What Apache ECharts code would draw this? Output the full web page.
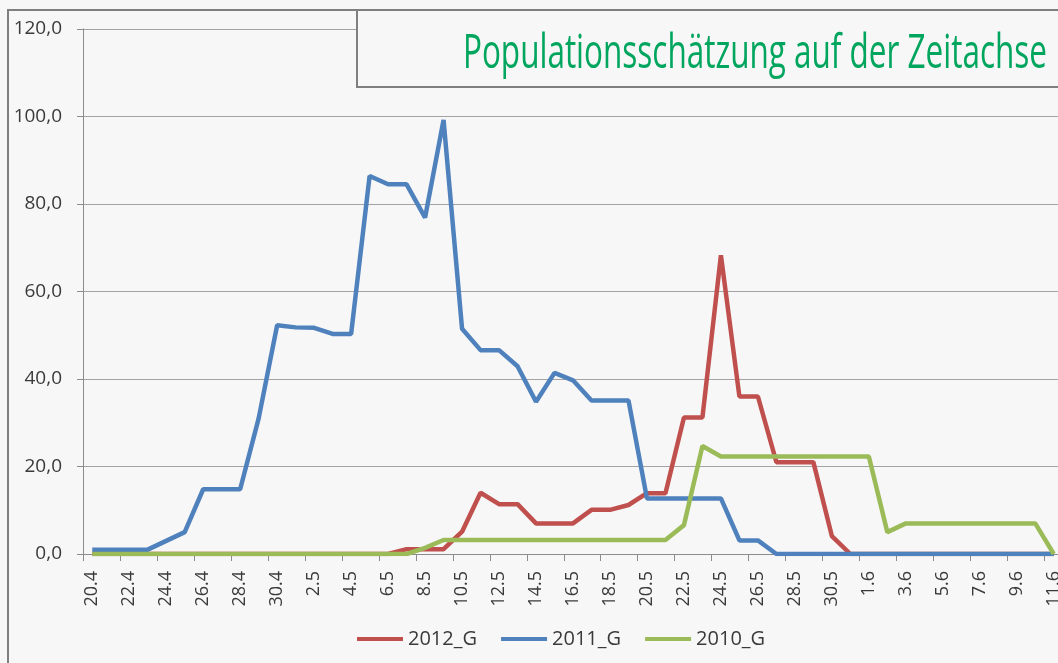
<!DOCTYPE html>
<html>
<head>
<meta charset="utf-8">
<script src="https://cdn.jsdelivr.net/npm/echarts@6/dist/echarts.min.js"></script>
<style>
html,body{margin:0;padding:0;background:#f7f7f7;}
#chart{width:1058px;height:663px;}
</style>
</head>
<body>
<div id="chart"></div>
<script>
const titleText = 'Populationsschätzung auf der Zeitachse';
const categories = ['20.4','21.4','22.4','23.4','24.4','25.4','26.4','27.4','28.4','29.4','30.4',
  '1.5','2.5','3.5','4.5','5.5','6.5','7.5','8.5','9.5','10.5','11.5','12.5','13.5','14.5','15.5',
  '16.5','17.5','18.5','19.5','20.5','21.5','22.5','23.5','24.5','25.5','26.5','27.5','28.5','29.5',
  '30.5','31.5','1.6','2.6','3.6','4.6','5.6','6.6','7.6','8.6','9.6','10.6','11.6'];
const seriesNames = ['2012_G','2011_G','2010_G'];
const values2012 = [0,0,0,0,0,0,0,0,0,0,0,0,0,0,0,0,0,
  1.1,1.1,1.1,5.1,14.0,11.4,11.4,7.0,7.0,7.0,10.1,10.1,11.2,13.9,13.9,31.2,31.2,68.3,36.0,36.0,
  21.0,21.0,21.0,4.1,0,0,0,0,0,0,0,0,0,0,0,0];
const values2011 = [1.0,1.0,1.0,1.0,3.0,5.0,14.8,14.8,14.8,31.0,52.3,51.8,51.7,50.3,50.3,86.4,84.5,84.5,
  76.9,99.2,51.5,46.6,46.6,42.9,34.8,41.4,39.7,35.1,35.1,35.1,12.7,12.7,12.7,12.7,12.7,3.1,3.1,
  0,0,0,0,0,0,0,0,0,0,0,0,0,0,0,0];
const values2010 = [0,0,0,0,0,0,0,0,0,0,0,0,0,0,0,0,0,0,
  1.4,3.2,3.2,3.2,3.2,3.2,3.2,3.2,3.2,3.2,3.2,3.2,3.2,3.2,6.6,24.7,
  22.3,22.3,22.3,22.3,22.3,22.3,22.3,22.3,22.3,5.0,7.0,7.0,7.0,7.0,7.0,7.0,7.0,7.0,0];
const yTicks = {min: 0, max: 120, interval: 20};
const colors = ['#c0504d','#4f81bd','#9bbb59'];

// fit title width (layout only)
const titleFont = '48px "Open Sans"';
const cv = document.createElement('canvas').getContext('2d');
cv.font = titleFont;
const tw = cv.measureText(titleText).width;
const titleScale = 584 / tw;

const chart = echarts.init(document.getElementById('chart'), null, {renderer: 'canvas'});
const axisGrey = '#8c8c8c';
const txt = '#3a3a3a';
chart.setOption({
  backgroundColor: '#f7f7f7',
  animation: false,
  color: colors,
  grid: {left: 83, right: -5, top: 29, bottom: 109, containLabel: false, outerBoundsMode: 'none'},
  xAxis: {
    type: 'category', data: categories, boundaryGap: true,
    axisLine: {lineStyle: {color: axisGrey, width: 1}},
    axisTick: {show: true, interval: 1, length: 7, lineStyle: {color: axisGrey}},
    axisLabel: {interval: 1, rotate: 90, margin: 17, fontSize: 18, fontFamily: 'Open Sans', color: txt},
    splitLine: {show: false}
  },
  yAxis: {
    type: 'value', min: yTicks.min, max: yTicks.max, interval: yTicks.interval,
    axisLine: {show: true, lineStyle: {color: axisGrey, width: 1}},
    axisTick: {show: true, length: 6, lineStyle: {color: axisGrey}},
    axisLabel: {margin: 21, fontSize: 19, fontFamily: 'Open Sans', color: txt,
      formatter: v => v.toFixed(1).replace('.', ',')},
    splitLine: {lineStyle: {color: '#a3a3a3', width: 1}}
  },
  legend: {
    data: seriesNames, left: 352, top: 624, icon: 'rect', itemWidth: 46, itemHeight: 4, itemGap: 24,
    textStyle: {fontSize: 20, fontFamily: 'Open Sans', color: txt}
  },
  graphic: [
    {type: 'rect', z: 100, shape: {x: 8, y: 10, width: 1200, height: 800},
     style: {fill: 'none', stroke: '#7f7f7f', lineWidth: 2}},
    {type: 'rect', z: 101, shape: {x: 357, y: 10, width: 800, height: 77},
     style: {fill: '#f7f7f7', stroke: '#7f7f7f', lineWidth: 2}},
    {type: 'text', z: 102, x: 1047, y: 54, scaleX: titleScale, scaleY: 1,
     style: {text: titleText, font: titleFont, fill: '#00a55e', align: 'right', verticalAlign: 'middle'}}
  ],
  series: [
    {name: seriesNames[0], type: 'line', data: values2012, symbol: 'none', lineStyle: {width: 4.5, color: colors[0]}, itemStyle: {color: colors[0]}},
    {name: seriesNames[1], type: 'line', data: values2011, symbol: 'none', lineStyle: {width: 4.5, color: colors[1]}, itemStyle: {color: colors[1]}},
    {name: seriesNames[2], type: 'line', data: values2010, symbol: 'none', lineStyle: {width: 4.5, color: colors[2]}, itemStyle: {color: colors[2]}}
  ]
});
</script>
</body>
</html>
